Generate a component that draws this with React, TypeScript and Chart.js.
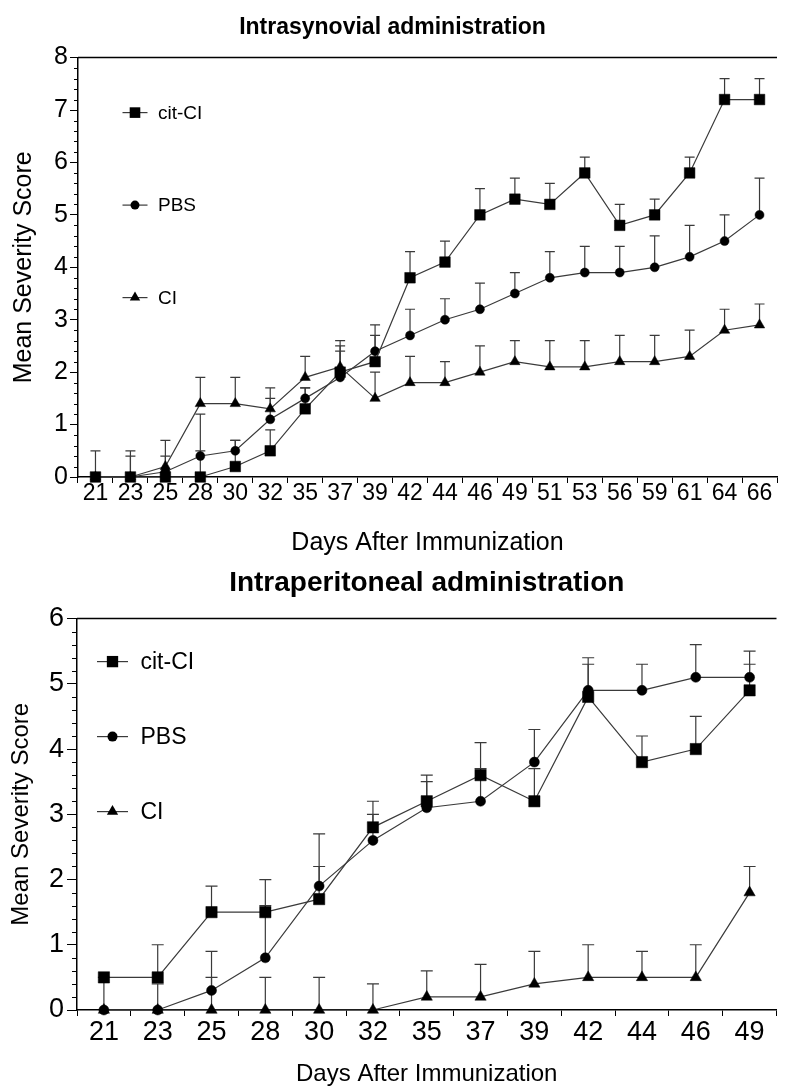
import React, { useEffect, useRef } from "react";
import { Chart, registerables } from "chart.js";

Chart.register(...registerables);

// ---------- Data: Intrasynovial administration ----------
const synovialDays = [21, 23, 25, 28, 30, 32, 35, 37, 39, 42, 44, 46, 49, 51, 53, 56, 59, 61, 64, 66];
const synovialCitCI = [0, 0, 0, 0, 0.2, 0.5, 1.3, 2.0, 2.2, 3.8, 4.1, 5.0, 5.3, 5.2, 5.8, 4.8, 5.0, 5.8, 7.2, 7.2];
const synovialCitCIErr = [0.5, 0.5, 0, 0.5, 0.5, 0.4, 0.4, 0.4, 0.5, 0.5, 0.4, 0.5, 0.4, 0.4, 0.3, 0.4, 0.3, 0.3, 0.4, 0.4];
const synovialPBS = [0, 0, 0.1, 0.4, 0.5, 1.1, 1.5, 1.9, 2.4, 2.7, 3.0, 3.2, 3.5, 3.8, 3.9, 3.9, 4.0, 4.2, 4.5, 5.0];
const synovialPBSErr = [0, 0.4, 0.3, 0.8, 0.2, 0.4, 0.2, 0.6, 0.5, 0.5, 0.4, 0.5, 0.4, 0.5, 0.5, 0.5, 0.6, 0.6, 0.5, 0.7];
const synovialCI = [0, 0, 0.2, 1.4, 1.4, 1.3, 1.9, 2.1, 1.5, 1.8, 1.8, 2.0, 2.2, 2.1, 2.1, 2.2, 2.2, 2.3, 2.8, 2.9];
const synovialCIErr = [0, 0, 0.5, 0.5, 0.5, 0.4, 0.4, 0.5, 0.5, 0.5, 0.4, 0.5, 0.4, 0.5, 0.5, 0.5, 0.5, 0.5, 0.4, 0.4];

// ---------- Data: Intraperitoneal administration ----------
const peritonealDays = [21, 23, 25, 28, 30, 32, 35, 37, 39, 42, 44, 46, 49];
const peritonealCitCI = [0.5, 0.5, 1.5, 1.5, 1.7, 2.8, 3.2, 3.6, 3.2, 4.8, 3.8, 4.0, 4.9];
const peritonealCitCIErr = [0, 0.5, 0.4, 0.5, 0.5, 0.4, 0.4, 0.5, 0.5, 0.5, 0.4, 0.5, 0.4];
const peritonealPBS = [0, 0, 0.3, 0.8, 1.9, 2.6, 3.1, 3.2, 3.8, 4.9, 4.9, 5.1, 5.1];
const peritonealPBSErr = [0.5, 0.4, 0.6, 0.8, 0.8, 0.4, 0.4, 0.5, 0.5, 0.5, 0.4, 0.5, 0.4];
const peritonealCI = [0, 0, 0, 0, 0, 0, 0.2, 0.2, 0.4, 0.5, 0.5, 0.5, 1.8];
const peritonealCIErr = [0, 0, 0.5, 0.5, 0.5, 0.4, 0.4, 0.5, 0.5, 0.5, 0.4, 0.5, 0.4];

const seriesNames = ["cit-CI", "PBS", "CI"];
const pointStyles = ["rect", "circle", "triangle"];

const FONT = "'Liberation Sans', Arial, Helvetica, sans-serif";
const LINE = "#3a3a3a";

function drawMarker(ctx: CanvasRenderingContext2D, style: string, x: number, y: number, r: number) {
  ctx.beginPath();
  if (style === "rect") {
    const s = 2 * r * Math.SQRT1_2;
    ctx.rect(x - s / 2, y - s / 2, s, s);
  } else if (style === "circle") {
    ctx.arc(x, y, r, 0, Math.PI * 2);
  } else {
    ctx.moveTo(x, y - r);
    ctx.lineTo(x + 0.866 * r, y + 0.5 * r);
    ctx.lineTo(x - 0.866 * r, y + 0.5 * r);
    ctx.closePath();
  }
  ctx.fill();
}

const errorBarPlugin = {
  id: "errorBars",
  beforeDatasetsDraw(chart: any, _args: any, opts: any) {
    const ctx = chart.ctx;
    const yScale = chart.scales.y;
    chart.data.datasets.forEach((ds: any, i: number) => {
      const errs: number[] = ds.errors;
      if (!errs) return;
      const meta = chart.getDatasetMeta(i);
      meta.data.forEach((pt: any, j: number) => {
        const e = errs[j];
        if (!e) return;
        const v = ds.data[j];
        const x = pt.x;
        const y0 = yScale.getPixelForValue(v);
        const y1 = yScale.getPixelForValue(v + e);
        ctx.save();
        ctx.strokeStyle = opts.color;
        ctx.lineWidth = opts.width;
        ctx.beginPath();
        ctx.moveTo(x, y0);
        ctx.lineTo(x, y1);
        ctx.moveTo(x - opts.cap, y1);
        ctx.lineTo(x + opts.cap, y1);
        ctx.stroke();
        ctx.restore();
      });
    });
  },
};

const framePlugin = {
  id: "frame",
  afterDraw(chart: any, _args: any, opts: any) {
    const ctx = chart.ctx;
    const area = chart.chartArea;
    const yScale = chart.scales.y;
    ctx.save();
    ctx.strokeStyle = "#000";
    ctx.lineWidth = 1.5;
    ctx.beginPath();
    ctx.moveTo(area.left, area.top);
    ctx.lineTo(area.right, area.top);
    ctx.stroke();
    ctx.lineWidth = 1;
    ctx.beginPath();
    const min = yScale.min;
    const max = yScale.max;
    const steps = Math.round((max - min) / opts.minorStep);
    for (let k = 0; k <= steps; k++) {
      const v = min + k * opts.minorStep;
      if (Math.abs(v - Math.round(v)) < 1e-6) continue;
      const py = Math.round(yScale.getPixelForValue(v)) + 0.5;
      ctx.moveTo(area.left - opts.minorLen, py);
      ctx.lineTo(area.left, py);
    }
    ctx.stroke();
    ctx.restore();
  },
};

const legendPlugin = {
  id: "insideLegend",
  afterDraw(chart: any, _args: any, opts: any) {
    const ctx = chart.ctx;
    const area = chart.chartArea;
    ctx.save();
    chart.data.datasets.forEach((ds: any, i: number) => {
      const cy = area.top + opts.y + i * opts.gap;
      const cx = area.left + opts.x;
      ctx.strokeStyle = LINE;
      ctx.lineWidth = 1.2;
      ctx.beginPath();
      ctx.moveTo(cx - opts.half, cy);
      ctx.lineTo(cx + opts.half, cy);
      ctx.stroke();
      ctx.fillStyle = "#000";
      drawMarker(ctx, ds.pointStyle, cx, cy, ds.pointRadius);
      ctx.font = `${opts.fontSize}px ${FONT}`;
      ctx.textBaseline = "middle";
      ctx.textAlign = "left";
      ctx.fillText(ds.label, area.left + opts.textX, cy + 1);
    });
    ctx.restore();
  },
};

function makeDatasets(values: number[][], errors: number[][], radii: number[]) {
  return values.map((vals, i) => ({
    label: seriesNames[i],
    data: vals,
    errors: errors[i],
    borderColor: LINE,
    borderWidth: 1.2,
    pointStyle: pointStyles[i],
    pointRadius: radii[i],
    pointHoverRadius: radii[i],
    pointBackgroundColor: "#000",
    pointBorderColor: "#000",
    pointBorderWidth: 0.5,
    tension: 0,
    fill: false,
    clip: false,
  }));
}

function makeConfig(p: any): any {
  return {
    type: "line",
    data: {
      labels: p.days.map(String),
      datasets: makeDatasets(p.values, p.errors, p.radii),
    },
    plugins: [errorBarPlugin, framePlugin, legendPlugin],
    options: {
      responsive: false,
      maintainAspectRatio: false,
      animation: false,
      events: [],
      layout: { padding: 0 },
      plugins: {
        legend: { display: false },
        tooltip: { enabled: false },
        title: {
          display: true,
          text: p.title,
          color: "#000",
          fullSize: p.titleFull,
          font: { family: FONT, size: p.titleSize, weight: "bold", lineHeight: 1.2 },
          padding: p.titlePad,
        },
        errorBars: { color: LINE, width: 1.2, cap: p.cap },
        frame: { minorStep: 0.2, minorLen: p.minorLen },
        insideLegend: p.legend,
      },
      scales: {
        x: {
          type: "category",
          offset: true,
          grid: {
            display: true,
            offset: true,
            drawOnChartArea: false,
            drawTicks: true,
            tickLength: 6,
            color: "#000",
            lineWidth: 1,
          },
          border: { display: true, color: "#000", width: 1.5 },
          ticks: {
            color: "#000",
            autoSkip: false,
            maxRotation: 0,
            font: { family: FONT, size: p.xTickSize, lineHeight: 1 },
            padding: p.xTickPad,
          },
          title: {
            display: true,
            text: "Days After Immunization",
            color: "#000",
            font: { family: FONT, size: p.xTitleSize, lineHeight: 1 },
            padding: { top: 0, bottom: p.xTitlePad },
          },
          afterFit: (s: any) => {
            s.height = p.xHeight;
          },
        },
        y: {
          min: 0,
          max: p.yMax,
          grid: {
            display: true,
            drawOnChartArea: false,
            drawTicks: true,
            tickLength: p.majorLen,
            color: "#000",
            lineWidth: 1,
          },
          border: { display: true, color: "#000", width: 1.5 },
          ticks: {
            stepSize: 1,
            color: "#000",
            font: { family: FONT, size: p.yTickSize },
            padding: p.yTickPad,
          },
          title: {
            display: true,
            text: "Mean Severity Score",
            color: "#000",
            font: { family: FONT, size: p.yTitleSize, lineHeight: 1.2 },
            padding: { top: p.yTitlePad, bottom: 0 },
          },
          afterFit: (s: any) => {
            s.width = p.yWidth;
          },
        },
      },
    },
  };
}

const topParams = {
  days: synovialDays,
  values: [synovialCitCI, synovialPBS, synovialCI],
  errors: [synovialCitCIErr, synovialPBSErr, synovialCIErr],
  radii: [7.5, 4.5, 6],
  title: "Intrasynovial administration",
  titleFull: true,
  titleSize: 23,
  titlePad: { top: 14, bottom: 16 },
  cap: 5,
  minorLen: 4,
  majorLen: 8,
  legend: { x: 57, textX: 80, y: 55, gap: 92.5, half: 12.5, fontSize: 19 },
  xTickSize: 23,
  xTickPad: -1,
  xTitleSize: 25,
  xTitlePad: 4,
  xHeight: 83,
  yMax: 8,
  yTickSize: 25,
  yTickPad: 2,
  yTitleSize: 25,
  yTitlePad: 9,
  yWidth: 78,
};

const bottomParams = {
  days: peritonealDays,
  values: [peritonealCitCI, peritonealPBS, peritonealCI],
  errors: [peritonealCitCIErr, peritonealPBSErr, peritonealCIErr],
  radii: [8, 5, 6.5],
  title: "Intraperitoneal administration",
  titleFull: false,
  titleSize: 28,
  titlePad: { top: 6, bottom: 19 },
  cap: 6,
  minorLen: 5,
  majorLen: 10,
  legend: { x: 35.5, textX: 63.5, y: 43, gap: 75, half: 15.5, fontSize: 23 },
  xTickSize: 27,
  xTickPad: 3,
  xTitleSize: 24,
  xTitlePad: 0,
  xHeight: 76,
  yMax: 6,
  yTickSize: 27,
  yTickPad: 3,
  yTitleSize: 24,
  yTitlePad: 7,
  yWidth: 77,
};

function ChartCanvas({ params, width, height }: { params: any; width: number; height: number }) {
  const ref = useRef<HTMLCanvasElement | null>(null);
  useEffect(() => {
    if (!ref.current) return;
    const chart = new Chart(ref.current, makeConfig(params));
    return () => chart.destroy();
  }, [params]);
  return (
    <div style={{ width, height, position: "relative" }}>
      <canvas ref={ref} width={width} height={height} style={{ width, height, display: "block" }} />
    </div>
  );
}

export default function App() {
  return (
    <div style={{ position: "absolute", left: 0, top: 0, width: 785, height: 1086, background: "#fff" }}>
      <ChartCanvas params={topParams} width={785} height={560} />
      <ChartCanvas params={bottomParams} width={785} height={526} />
    </div>
  );
}
